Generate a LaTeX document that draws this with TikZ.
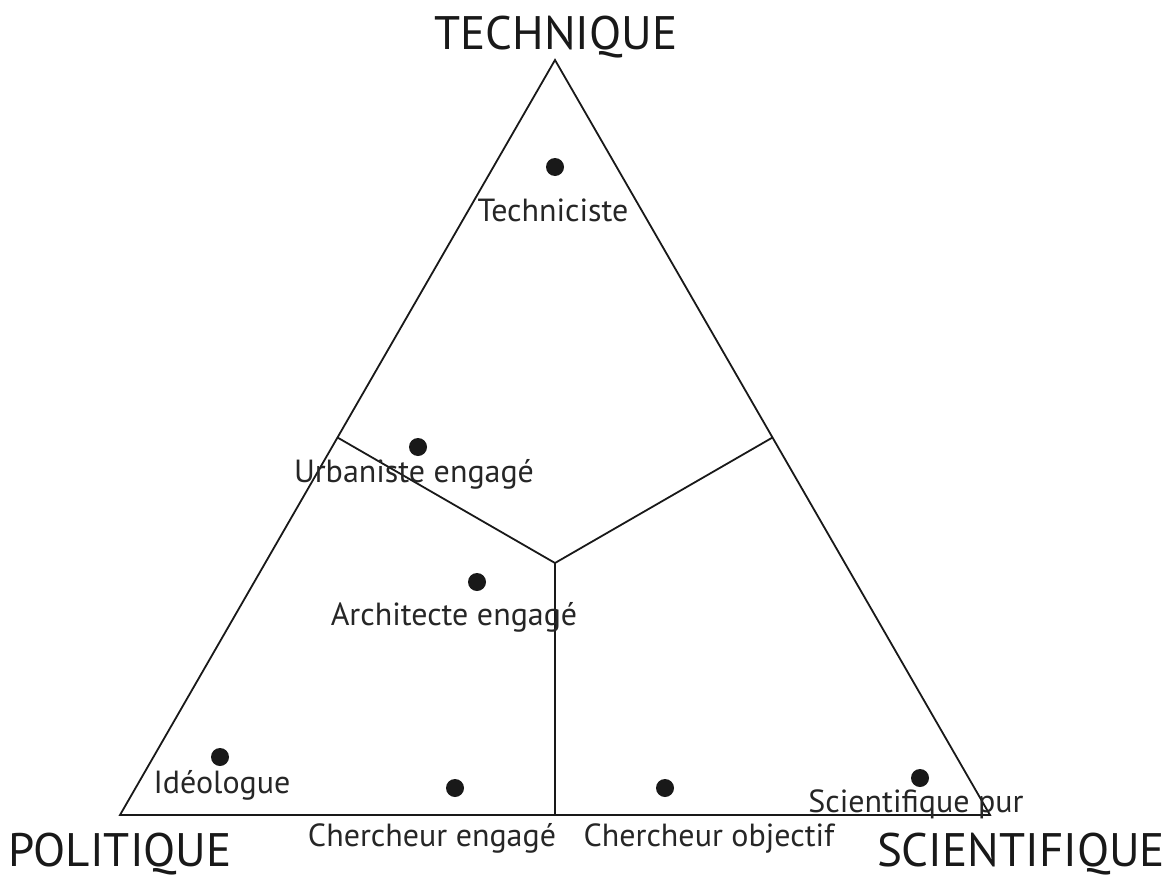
\documentclass[tikz,border=0pt]{standalone}
\usepackage{fontspec}
\setmainfont{PT Sans}
\begin{document}
\begin{tikzpicture}[x=1pt,y=-1pt,
  edge/.style={line width=1.8pt, black!90, line join=miter},
  dot/.style={circle, fill=black!90, inner sep=0pt, minimum size=18pt},
  lbl/.style={font=\fontsize{32}{34}\selectfont, text=black!85, inner sep=0pt, anchor=base},
  big/.style={font=\fontsize{47}{49}\selectfont, text=black!90, inner sep=0pt, anchor=base}]
\useasboundingbox (0,0) rectangle (1172,875);
\coordinate (T) at (555,60);
\coordinate (P) at (120,815);
\coordinate (S) at (990,815);
\coordinate (C) at (555,563);
\coordinate (mL) at (337.5,437.5);
\coordinate (mR) at (772.5,437.5);
\coordinate (mB) at (555,815);
\draw[edge] (T) -- (P) -- (S) -- cycle;
\draw[edge] (mL) -- (C) -- (mR);
\draw[edge] (C) -- (mB);
\node[dot] (d1) at (555,167) {};
\node[dot] (d2) at (418,447) {};
\node[dot] (d3) at (477,582) {};
\node[dot] (d4) at (220,757) {};
\node[dot] (d5) at (455,788) {};
\node[dot] (d6) at (665,788) {};
\node[dot] (d7) at (920,778) {};
\node[lbl] (l1) at (553,221) {Techniciste};
\node[lbl] (l2) at (414,482) {Urbaniste engagé};
\node[lbl] (l3) at (454,625) {Architecte engagé};
\node[lbl] (l4) at (222,793) {Idéologue};
\node[lbl] (l5) at (432,846) {Chercheur engagé};
\node[lbl] (l6) at (709,846) {Chercheur objectif};
\node[lbl] (l7) at (916,812) {Scientifique pur};
\node[big] (tt) at (556,50) {TECHNIQUE};
\node[big] (tp) at (120,866) {POLITIQUE};
\node[big] (ts) at (1021,866) {SCIENTIFIQUE};
\end{tikzpicture}
\end{document}
